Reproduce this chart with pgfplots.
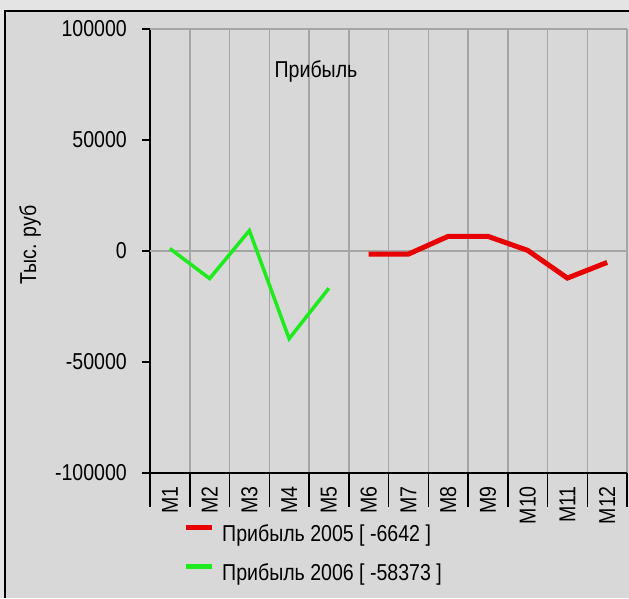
\documentclass[border=0pt]{standalone}
\usepackage{fontspec}
\setmainfont{Liberation Sans}[FakeStretch=0.85]
\usepackage{pgfplots}
\pgfplotsset{compat=1.18}

\definecolor{panelbg}{RGB}{215,216,215}
\definecolor{outerbg}{RGB}{228,228,228}
\definecolor{gridgray}{RGB}{165,165,165}
\definecolor{lred}{RGB}{232,0,0}
\definecolor{lgreen}{RGB}{30,235,30}

\begin{document}
\fontsize{23}{27}\selectfont
\begin{tikzpicture}[x=1pt,y=1pt]
\useasboundingbox (0,0) rectangle (629,598);
% window background and frame
\fill[outerbg] (0,0) rectangle (629,598);
\fill[panelbg] (5,0) rectangle (629,587);
\draw[black, line width=1.5pt] (5,0) -- (5,587) -- (629,587);

\begin{axis}[
  at={(150pt,125pt)}, anchor=south west,
  scale only axis, width=477pt, height=444pt,
  xmin=0, xmax=12, ymin=-100000, ymax=100000,
  scaled y ticks=false,
  axis x line*=bottom, axis y line*=left,
  axis line style={black, line width=1.5pt},
  tick align=outside,
  % month labels sit in the middle of each cell
  xtick={0.5,1.5,...,11.5},
  xticklabels={М1,М2,М3,М4,М5,М6,М7,М8,М9,М10,М11,М12},
  major x tick style={draw=none},
  xticklabel style={rotate=90, anchor=east, inner sep=0pt, xshift=-5pt},
  % cell separators: grid lines above, long ticks below
  minor xtick={0,1,...,12},
  minor tick length=34pt,
  minor x tick style={black, line width=1.5pt},
  xminorgrids,
  minor x grid style={gridgray, line width=1.5pt},
  ytick={-100000,-50000,0,50000,100000},
  yticklabels={-100000,-50000,0,50000,100000},
  major tick length=8pt,
  major y tick style={black, line width=1.5pt},
  yticklabel style={inner sep=0pt, xshift=-15pt},
  extra y ticks={0,100000},
  extra y tick labels={},
  extra y tick style={grid=major, major grid style={gridgray, line width=1.5pt}},
  title={Прибыль},
  title style={at={(axis description cs:0.348,0.878)}, anchor=base, inner sep=0pt},
  ylabel={Тыс. руб},
  ylabel style={at={(axis description cs:-0.2516,0.5135)}, anchor=center, inner sep=0pt},
  legend style={
    at={(axis description cs:0.0692,-0.115)}, anchor=north west,
    draw=none, fill=none, inner sep=0pt, row sep=17pt, column sep=8pt,
    nodes={inner sep=0pt, text height=17pt, text depth=5pt},
  },
  legend cell align=left,
  legend image code/.code={\draw[#1, line width=5pt] (0pt,8pt) -- (26pt,8pt);},
]
% 2005, months 6-12
\addplot[lred, line width=5pt] coordinates {
  (5.5,-1400) (6.5,-1400) (7.5,6600) (8.5,6600) (9.5,300) (10.5,-12200) (11.5,-5142)
};
\addlegendentry{Прибыль 2005 [ -6642 ]}
% 2006, months 1-5
\addplot[lgreen, line width=3.5pt] coordinates {
  (0.5,1100) (1.5,-12400) (2.5,9200) (3.5,-39500) (4.5,-16773)
};
\addlegendentry{Прибыль 2006 [ -58373 ]}
\end{axis}
\end{tikzpicture}
\end{document}
